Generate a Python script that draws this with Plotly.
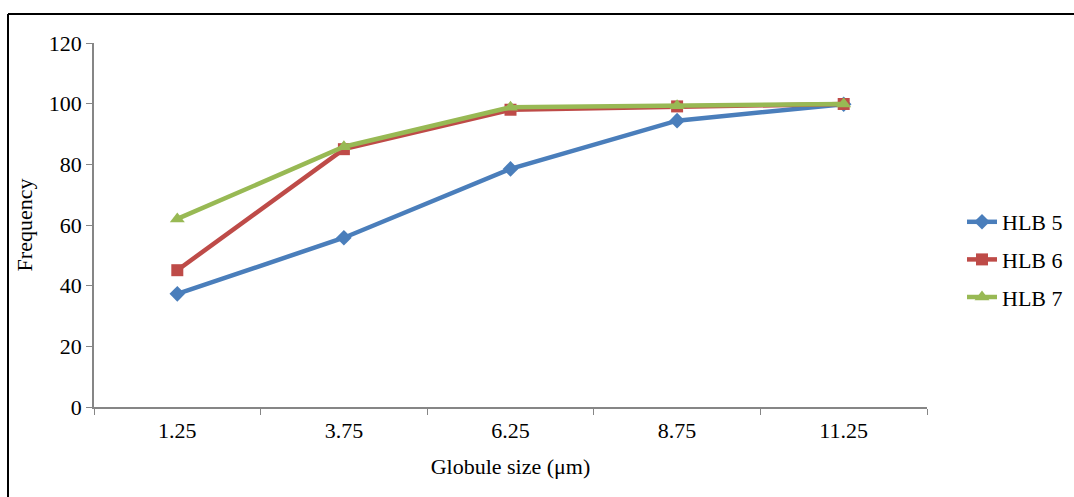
import plotly.graph_objects as go

categories = ["1.25", "3.75", "6.25", "8.75", "11.25"]
hlb5 = [37.3, 55.8, 78.5, 94.4, 99.8]
hlb6 = [45.1, 85.0, 98.0, 99.1, 99.9]
hlb7 = [62.0, 85.8, 98.8, 99.3, 99.9]
series_names = ["HLB 5", "HLB 6", "HLB 7"]
y_ticks = [0, 20, 40, 60, 80, 100, 120]

colors = ["#4A7EBB", "#BE4B48", "#98B954"]
symbols = ["diamond", "square", "triangle-up"]
sizes = [12, 12, 13]

FONT = "Liberation Serif"
W, H = 1074, 497
ML, MR, MT, MB = 94, 147, 43, 90
pw = W - ML - MR
ph = H - MT - MB

fig = go.Figure()
for name, vals, c, s, sz in zip(series_names, [hlb5, hlb6, hlb7], colors, symbols, sizes):
    fig.add_trace(go.Scatter(
        x=categories, y=vals, name=name, mode="lines+markers",
        line=dict(color=c, width=4.5),
        marker=dict(symbol=s, size=sz, color=c),
        legendgroup=name,
    ))

def px_x(p):
    return (p - ML) / pw

def px_y(p):
    return (H - MB - p) / ph

# outer frame (top and left edges)
fig.add_shape(type="line", xref="paper", yref="paper",
              x0=px_x(8), x1=px_x(W + 5), y0=px_y(14), y1=px_y(14),
              line=dict(color="black", width=2))
fig.add_shape(type="line", xref="paper", yref="paper",
              x0=px_x(8), x1=px_x(8), y0=px_y(14), y1=px_y(H + 5),
              line=dict(color="black", width=2))

fig.update_layout(
    width=W, height=H,
    margin=dict(l=ML, r=MR, t=MT, b=MB, autoexpand=False),
    paper_bgcolor="white", plot_bgcolor="white",
    font=dict(family=FONT, size=22, color="black"),
    showlegend=True,
    legend=dict(x=px_x(962), y=px_y(201), xanchor="left", yanchor="top",
                font=dict(family=FONT, size=22, color="black"),
                tracegroupgap=6, bgcolor="rgba(0,0,0,0)"),
    xaxis=dict(
        type="category", range=[-0.5, 4.5],
        showline=True, linecolor="#868686", linewidth=1.5,
        ticks="outside", tickson="boundaries", ticklen=6, tickcolor="#868686",
        showgrid=False, zeroline=False, automargin=False,
        ticklabelstandoff=3,
        title=dict(text="Globule size (μm)", font=dict(family=FONT, size=22), standoff=16),
    ),
    yaxis=dict(
        range=[0, 120], tickvals=y_ticks,
        showline=True, linecolor="#868686", linewidth=1.5,
        ticks="outside", ticklen=6, tickcolor="#868686",
        showgrid=False, zeroline=False, automargin=False,
        title=dict(text="Frequency", font=dict(family=FONT, size=22), standoff=10),
    ),
)

fig.write_html("out.html")
